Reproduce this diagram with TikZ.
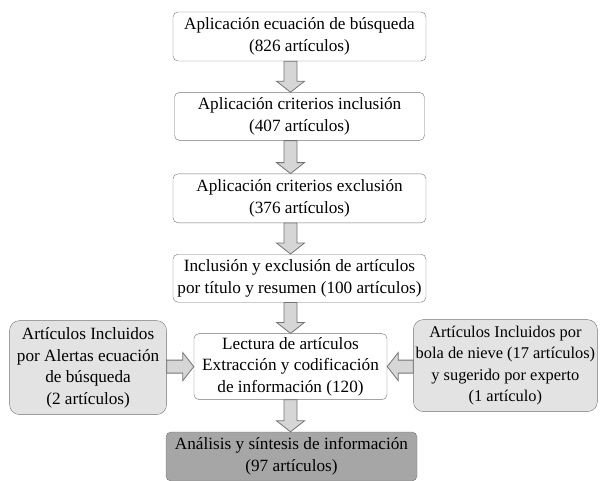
\documentclass[tikz,border=0pt]{standalone}
\usepackage{fontspec}
\setmainfont{Liberation Serif}
\usepackage{tikz}
\usetikzlibrary{positioning,calc}

\newcommand{\flecha}[2]{%
  \path ($(#2)!11pt!(#1)$) coordinate (h);
  \draw[flecha] ($(#1)!6.5pt!90:(#2)$) -- ($(h)!6.5pt!90:(#2)$) -- ($(h)!14pt!90:(#2)$) -- (#2)
    -- ($(h)!14pt!-90:(#2)$) -- ($(h)!6.5pt!-90:(#2)$) -- ($(#1)!6.5pt!-90:(#2)$) -- cycle;}

\begin{document}
\begin{tikzpicture}[node distance=31pt,
  every node/.style={align=center,font=\fontsize{17.2}{21.5}\selectfont,inner sep=0pt},
  caja/.style={draw=black!55,fill=white,rounded corners=5pt,minimum width=253pt,minimum height=49pt},
  lateral/.style={draw=black!55,fill=black!11,rounded corners=10pt},
  final/.style={caja,fill=black!35},
  flecha/.style={draw=black!55,fill=black!16,line width=0.8pt}]
  \useasboundingbox (0,0) rectangle (600pt,-480pt);
  \node[caja] (busq) at (299.5pt,-36.5pt) {Aplicación ecuación de búsqueda\\(826 artículos)};
  \node[caja,below=of busq,minimum width=250pt,minimum height=48pt] (incl) {Aplicación criterios inclusión\\(407 artículos)};
  \node[caja,below=33pt of incl] (excl) {Aplicación criterios exclusión\\(376 artículos)};
  \node[caja,below=of excl,minimum height=48pt] (titulo) {Inclusión y exclusión de artículos\\por título y resumen (100 artículos)};
  \node[caja,below=of titulo,xshift=-9pt,minimum width=193pt,minimum height=66pt] (lectura) {Lectura de artículos\\Extracción y codificación\\de información (120)};
  \node[final,below=32pt of lectura,xshift=1pt,minimum width=251pt] (analisis) {Análisis y síntesis de información\\(97 artículos)};
  \node[lateral,left=27pt of lectura,yshift=-1pt,minimum width=157pt,minimum height=94pt] (alertas) {Artículos Incluidos\\por Alertas ecuación\\de búsqueda\\(2 artículos)};
  \node[lateral,right=26pt of lectura,yshift=1pt,minimum width=184pt,minimum height=92pt,font=\fontsize{16.4}{21.5}\selectfont] (nieve) {Artículos Incluidos por\\bola de nieve (17 artículos)\\y sugerido por experto\\(1 artículo)};

  \flecha{busq.south -| lectura}{incl.north -| lectura}
  \flecha{incl.south -| lectura}{excl.north -| lectura}
  \flecha{excl.south -| lectura}{titulo.north -| lectura}
  \flecha{titulo.south -| lectura}{lectura.north}
  \flecha{lectura.south}{analisis.north -| lectura}
  \flecha{alertas.east |- lectura}{lectura.west}
  \flecha{nieve.west |- lectura}{lectura.east}
\end{tikzpicture}
\end{document}
